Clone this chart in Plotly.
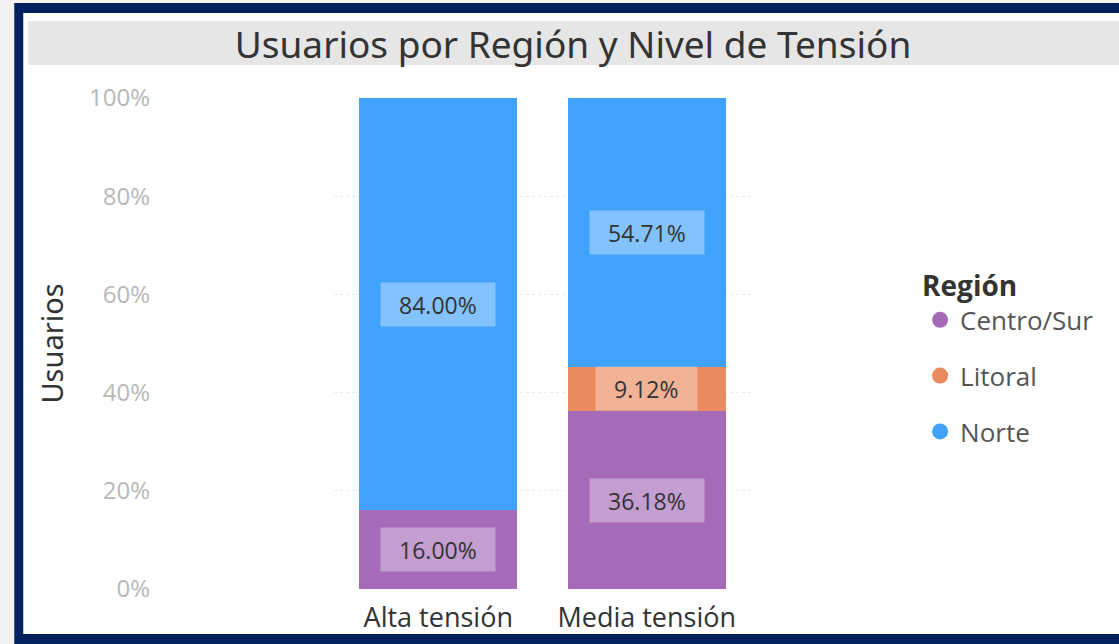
import plotly.graph_objects as go

categories = ["Alta tensión", "Media tensión"]
regions = ["Centro/Sur", "Litoral", "Norte"]
centro_sur = [16.00, 36.18]
litoral = [0.0, 9.12]
norte = [84.00, 54.71]
colors = {"Centro/Sur": "#A66BB8", "Litoral": "#EB895F", "Norte": "#41A2FC"}
series = {"Centro/Sur": centro_sur, "Litoral": litoral, "Norte": norte}

W_FIG, H_FIG = 1119, 644
L, R_ = 333.5, 751.5
T, B = 98, 589
PW, PH = R_ - L, B - T

def px(x):
    return (x - L) / PW

def py(y):
    return (B - y) / PH

fig = go.Figure()

cum = [0.0, 0.0]
annots = []
for reg in regions:
    vals = [v / 100 for v in series[reg]]
    fig.add_trace(go.Bar(
        x=categories, y=vals, name=reg, marker=dict(color=colors[reg], line=dict(width=0)),
        showlegend=False, hoverinfo="skip"))
    for i, v in enumerate(vals):
        if v > 0:
            label = f"{v*100:.2f}%"
            annots.append(dict(
                x=categories[i], y=cum[i] + v / 2, xref="x", yref="y",
                text=label, showarrow=False,
                font=dict(family="Open Sans", size=23, color="#333333"),
                bgcolor="rgba(255,255,255,0.35)", borderpad=6,
                width=len(label) * 13.3 + 22, height=31))
        cum[i] += v

for reg in regions:
    fig.add_trace(go.Scatter(
        x=[None], y=[None], mode="markers", name=reg, legendgroup=reg,
        marker=dict(symbol="circle", size=17, color=colors[reg])))

shapes = [
    dict(type="rect", xref="paper", yref="paper", x0=px(13), x1=px(1140), y0=py(680), y1=py(3),
         fillcolor="#002060", line=dict(width=0), layer="below"),
    dict(type="rect", xref="paper", yref="paper", x0=px(22), x1=px(1140), y0=py(634), y1=py(13),
         fillcolor="#FFFFFF", line=dict(width=0), layer="below"),
    dict(type="rect", xref="paper", yref="paper", x0=px(27), x1=px(1140), y0=py(65), y1=py(21),
         fillcolor="#E6E6E6", line=dict(width=0), layer="below"),
]

fig.update_layout(
    width=W_FIG, height=H_FIG,
    margin=dict(l=L, r=W_FIG - R_, t=T, b=H_FIG - B, autoexpand=False),
    paper_bgcolor="#F2F2F2", plot_bgcolor="rgba(0,0,0,0)",
    barmode="stack", bargap=1 - 158 / 209,
    title=dict(text="Usuarios por Región y Nivel de Tensión", xref="container", yref="container",
               x=573 / W_FIG, y=1 - 45 / H_FIG, xanchor="center", yanchor="middle",
               font=dict(family="Noto Sans", size=37, color="#333333")),
    xaxis=dict(type="category", range=[-0.5, 1.5], showgrid=False, showline=False, ticks="",
               ticklabelstandoff=10,
               tickfont=dict(family="Open Sans", size=27, color="#333333")),
    yaxis=dict(range=[0, 1], tickformat=".0%", dtick=0.2, showgrid=True, gridcolor="#EBEBEB",
               griddash="dot", zeroline=False, showline=False, ticks="",
               ticklabelstandoff=183,
               tickfont=dict(family="Open Sans", size=24, color="#B8B8B8"),
               title=dict(text="Usuarios", standoff=16,
                          font=dict(family="Noto Sans", size=29, color="#333333"))),
    legend=dict(x=px(921), y=py(260), xanchor="left", yanchor="top",
                title=dict(text="<b>Región</b>", font=dict(family="Open Sans", size=28, color="#333333")),
                font=dict(family="Open Sans", size=26, color="#555555"),
                tracegroupgap=19, bgcolor="rgba(0,0,0,0)", itemwidth=30),
    shapes=shapes,
    annotations=annots,
)

fig.write_html("out.html", config={"displayModeBar": False},
               post_script="document.body.style.margin='0';")
